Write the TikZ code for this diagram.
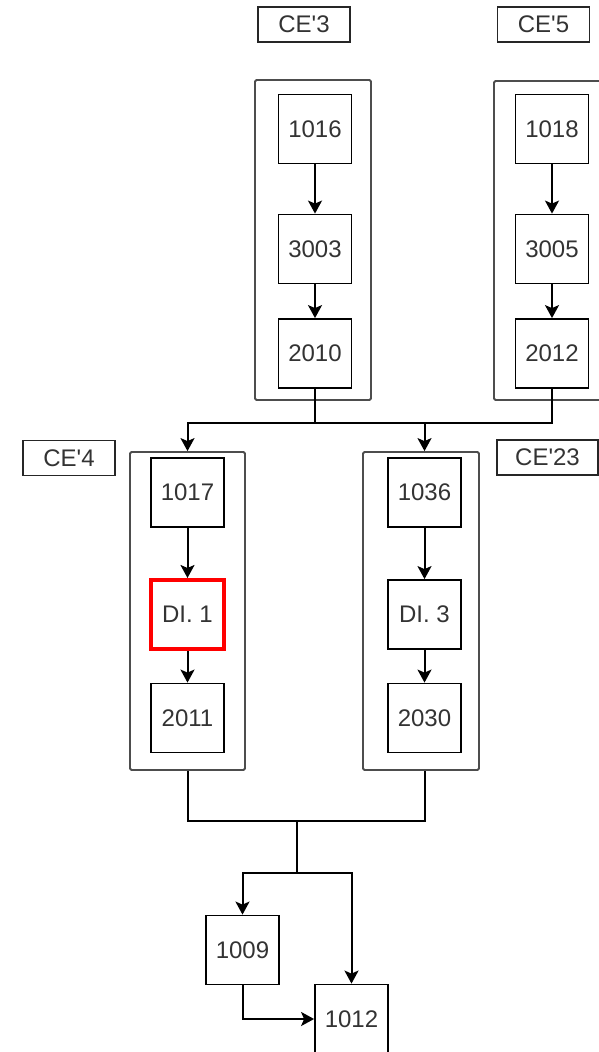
\documentclass[tikz,border=0pt]{standalone}
\usepackage{fontspec}
\setmainfont{Liberation Sans}[Ligatures=TeXOff]
\usetikzlibrary{arrows.meta,positioning}
\definecolor{ink}{HTML}{333333}
\definecolor{frame}{HTML}{4D4D4D}
\definecolor{mark}{HTML}{FF0000}
\tikzset{
    every picture/.style={line join=miter},
    stepnode/.style={draw=black,line width=1.8pt,minimum width=73pt,minimum height=69pt,
      inner sep=0pt,text=ink},
    normal/.style={},
    marked/.style={draw=mark,line width=4pt},
    groupbox/.style={draw=frame,line width=1.8pt,rounded corners=1.5pt,inner sep=0pt},
    cetag/.style={draw=black!85,line width=1.4pt,minimum width=92pt,minimum height=35pt,
      inner sep=0pt,text=ink},
    flowline/.style={draw=black,line width=2pt},
    flowarrow/.style={flowline,-{Stealth[length=13pt,width=14pt,inset=3pt]}}
}
\begin{document}
\begin{tikzpicture}[x=1pt,y=-1pt,font=\fontsize{24}{28}\selectfont]
  \useasboundingbox (0,0) rectangle (599,1052);
  \clip (0,0) rectangle (599,1052);
  % upper groups
  \node[groupbox,minimum width=116pt,minimum height=320pt] (g3) at (313,240){};
  \node[groupbox,minimum width=116pt,minimum height=319pt] (g5) at (552,240.5){};
  \foreach \col/\x/\va/\vb/\vc in {a/315/1016/3003/2010,b/552/1018/3005/2012}{
    \node[stepnode] (\col0) at (\x,129){\va};
    \node[stepnode] (\col1) at (\x,249){\vb};
    \node[stepnode] (\col2) at (\x,353.5){\vc};
    \draw[flowarrow] (\col0) -- (\col1);
    \draw[flowarrow] (\col1) -- (\col2);
  }
  % lower groups
  \node[groupbox,minimum width=115pt,minimum height=318pt] (g4) at (187.5,611){};
  \node[groupbox,minimum width=116pt,minimum height=318pt] (g23) at (421,611){};
  \foreach \row/\v/\s [count=\i from 0] in {492.5/1017/normal,614.5/{DI. 1}/marked,718/2011/normal}{
    \node[stepnode,\s] (d\i) at (187.5,\row){\v};}
  \foreach \row/\v [count=\i from 0] in {492.5/1036,614.5/{DI. 3},718/2030}{
    \node[stepnode] (e\i) at (424.5,\row){\v};}
  \draw[flowarrow] (d0) -- (d1);
  \draw[flowarrow] (d1) -- (d2);
  \draw[flowarrow] (e0) -- (e1);
  \draw[flowarrow] (e1) -- (e2);
  % tags
  \node[cetag] (t3) at (304,24.5){CE'3};
  \node[cetag] (t5) at (543.5,24.5){CE'5};
  \node[cetag] (t4) at (69,458){CE'4};
  \node[cetag,minimum width=101pt] (t23) at (547.5,457.5){CE'23};
  % merge from the upper groups
  \coordinate (m1) at (315,423);
  \draw[flowline] (a2) -- (m1);
  \draw[flowline] (b2) |- (m1);
  \draw[flowarrow] (m1) -| (d0.north |- g4.north);
  \draw[flowarrow] (m1) -| (e0.north |- g23.north);
  % merge to the bottom
  \node[stepnode] (c0) at (242.5,950){1009};
  \node[stepnode] (c1) at (351.5,1019){1012};
  \coordinate (m2) at (297,821);
  \coordinate (m3) at (297,873);
  \draw[flowline] (d2.south |- g4.south) |- (m2) -| (e2.south |- g23.south);
  \draw[flowline] (m2) -- (m3);
  \draw[flowarrow] (m3) -| (c0);
  \draw[flowarrow] (m3) -| (c1);
  \draw[flowarrow] (c0) |- (c1);
\end{tikzpicture}
\end{document}
